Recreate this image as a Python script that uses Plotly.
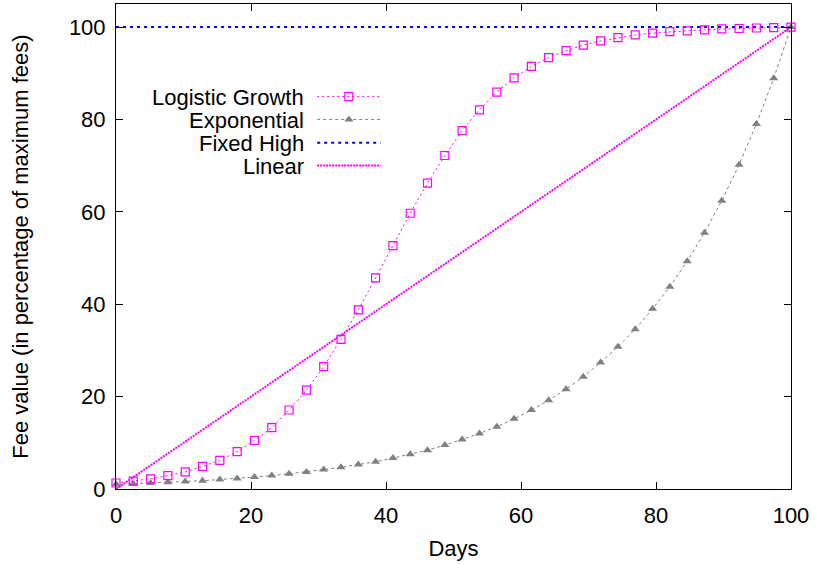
import plotly.graph_objects as go

# ---------------- data ----------------
days = [0, 2.56, 5.13, 7.69, 10.26, 12.82, 15.38, 17.95, 20.51, 23.08,
        25.64, 28.21, 30.77, 33.33, 35.9, 38.46, 41.03, 43.59, 46.15, 48.72,
        51.28, 53.85, 56.41, 58.97, 61.54, 64.1, 66.67, 69.23, 71.79, 74.36,
        76.92, 79.49, 82.05, 84.62, 87.18, 89.74, 92.31, 94.87, 97.44, 100]

logistic = [1.3, 1.7, 2.2, 2.9, 3.7, 4.9, 6.2, 8.1, 10.5, 13.3,
            17.1, 21.4, 26.5, 32.4, 38.8, 45.7, 52.7, 59.7, 66.2, 72.2,
            77.6, 82.1, 85.9, 89.0, 91.5, 93.4, 94.9, 96.1, 97.0, 97.7,
            98.3, 98.7, 99.0, 99.2, 99.4, 99.6, 99.7, 99.8, 99.9, 100]

exponential = [1.01, 1.14, 1.3, 1.45, 1.6, 1.8, 2.05, 2.3, 2.6, 2.9,
               3.3, 3.7, 4.2, 4.7, 5.3, 5.9, 6.7, 7.5, 8.4, 9.5,
               10.7, 12.0, 13.5, 15.2, 17.1, 19.2, 21.6, 24.3, 27.4, 30.8,
               34.6, 39.0, 43.8, 49.3, 55.5, 62.4, 70.2, 79.0, 88.9, 100]

fixed_x = [0, 100]
fixed_high = [100, 100]

linear_x = [0, 100]
linear = [0, 100]

series_names = ["Logistic Growth", "Exponential", "Fixed High", "Linear"]

x_ticks = [0, 20, 40, 60, 80, 100]
y_ticks = [0, 20, 40, 60, 80, 100]

# ---------------- styles ----------------
MAG = "#ff00ff"
GRAY = "#808080"
BLUE = "#0000ff"
FONT = "Liberation Sans, Arial, sans-serif"
FS = 22
LEG_FS = 22

styles = {
    "Logistic Growth": dict(mode="lines+markers",
                            line=dict(color=MAG, width=1, dash="2px,3px"),
                            marker=dict(symbol="square-open", size=8, color=MAG,
                                        line=dict(width=1.2, color=MAG))),
    "Exponential": dict(mode="lines+markers",
                        line=dict(color=GRAY, width=1, dash="3px,3px"),
                        marker=dict(symbol="triangle-up", size=8, color=GRAY)),
    "Fixed High": dict(mode="lines", line=dict(color=BLUE, width=2, dash="3px,4px")),
    "Linear": dict(mode="lines", line=dict(color=MAG, width=2, dash="2px,1px")),
}

fig = go.Figure()

data = {
    "Logistic Growth": (days, logistic),
    "Exponential": (days, exponential),
    "Fixed High": (fixed_x, fixed_high),
    "Linear": (linear_x, linear),
}

for name in ["Linear", "Fixed High", "Exponential", "Logistic Growth"]:
    xs, ys = data[name]
    fig.add_trace(go.Scatter(x=xs, y=ys, name=name, showlegend=False,
                             cliponaxis=False, **styles[name]))

# ---------------- hand-made legend (text left of sample, gnuplot style) ----------------
leg_text_x = 0.281
leg_x0, leg_x1 = 0.298, 0.392
leg_rows = [0.809, 0.762, 0.714, 0.667]
for name, yy in zip(series_names, leg_rows):
    st = styles[name]
    fig.add_trace(go.Scatter(x=[leg_x0, leg_x1], y=[yy, yy], mode="lines",
                             line=st["line"], xaxis="x2", yaxis="y2",
                             showlegend=False, hoverinfo="skip"))
    if "marker" in st:
        fig.add_trace(go.Scatter(x=[(leg_x0 + leg_x1) / 2], y=[yy], mode="markers",
                                 marker=st["marker"], xaxis="x2", yaxis="y2",
                                 showlegend=False, hoverinfo="skip"))
    fig.add_annotation(text=name, x=leg_text_x, y=yy, xref="x2", yref="y2",
                       xanchor="right", yanchor="middle", showarrow=False,
                       yshift=-1, font=dict(family=FONT, size=LEG_FS, color="black"))

axis_common = dict(showline=True, linecolor="black", linewidth=1, mirror="ticks",
                   ticks="inside", ticklen=7, tickwidth=1, tickcolor="black",
                   showgrid=False, zeroline=False,
                   tickfont=dict(family=FONT, size=FS, color="black"))

fig.update_layout(
    width=819, height=565,
    margin=dict(l=116, r=28, t=4, b=76),
    paper_bgcolor="white", plot_bgcolor="white",
    font=dict(family=FONT, size=FS, color="black"),
    xaxis=dict(range=[0, 100], tickvals=x_ticks, ticktext=[str(v) for v in x_ticks],
               ticklabelstandoff=7,
               title=dict(text="Days", standoff=13, font=dict(family=FONT, size=FS)),
               **axis_common),
    yaxis=dict(range=[0, 105], tickvals=y_ticks, ticktext=[str(v) for v in y_ticks],
               ticklabelstandoff=5,
               title=dict(text="Fee value (in percentage of maximum fees)", standoff=34,
                          font=dict(family=FONT, size=FS)),
               **axis_common),
    xaxis2=dict(range=[0, 1], overlaying="x", visible=False, fixedrange=True),
    yaxis2=dict(range=[0, 1], overlaying="y", visible=False, fixedrange=True),
    showlegend=False,
)

fig.write_html("out.html",
               config={"displayModeBar": False},
               post_script="document.body.style.margin='0';document.body.style.padding='0';")
